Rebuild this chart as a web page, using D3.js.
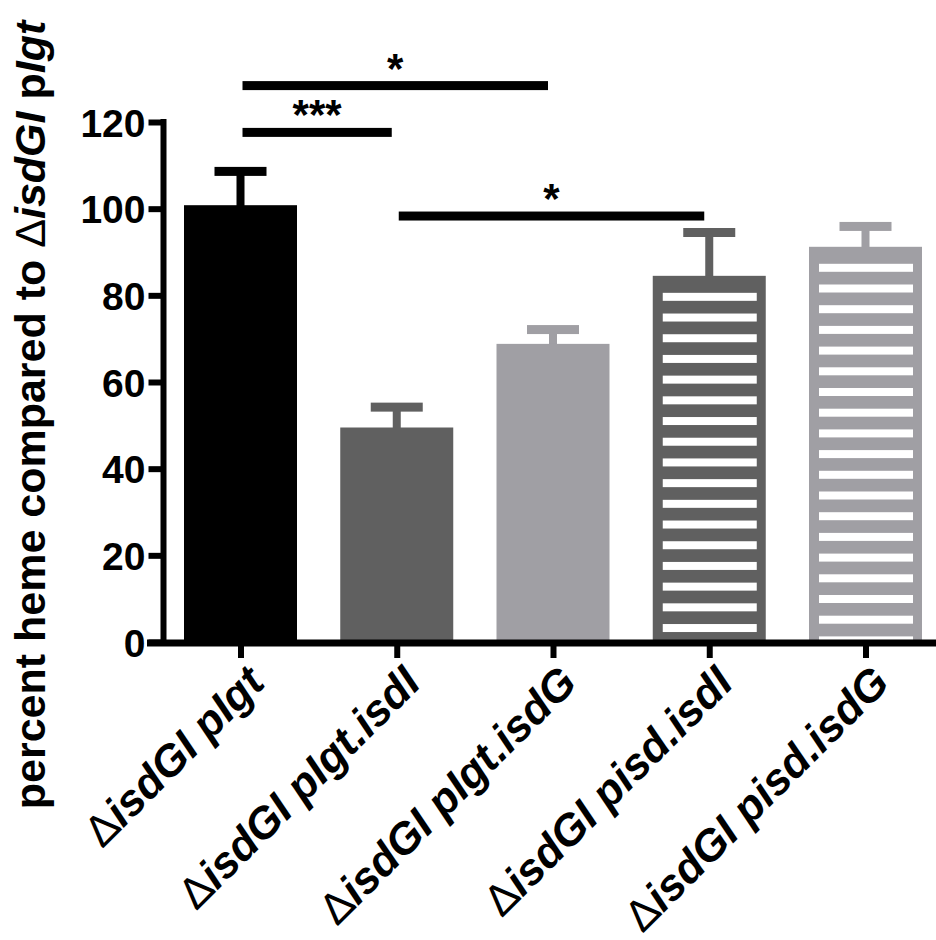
<!DOCTYPE html>
<html>
<head>
<meta charset="utf-8">
<script src="https://cdn.jsdelivr.net/npm/d3@7"></script>
<style>
  body { margin: 0; background: #fff; }
  svg { display: block; }
  text { font-family: "Liberation Sans", Arial, sans-serif; }
</style>
</head>
<body>
<svg id="chart" width="936" height="940"></svg>
<script>
// Heme recovered per strain, as percent of the ΔisdGI pIgt control (mean ± SEM)
const plasmids = ["pIgt", "pIgt.isdI", "pIgt.isdG", "pisd.isdI", "pisd.isdG"];
const hemePercent = [100.8, 49.5, 68.8, 84.5, 91.2];
const hemeSem = [7.8, 4.7, 3.3, 10.0, 4.7];
const barFills = ["#000000", "#606060", "#a09fa4", "#606060", "#a09fa4"];
const barStriped = [false, false, false, true, true];
const yTickValues = [0, 20, 40, 60, 80, 100, 120];

// Significance brackets: pair of strains, bracket height (in % units), label
const sigFrom = [0, 0, 1];
const sigTo = [2, 1, 3];
const sigLevel = [128.4, 117.6, 98.3];
const sigLabel = ["*", "***", "*"];

const svg = d3.select("#chart");

const x = d3.scalePoint().domain(plasmids).range([240.5, 865.5]);
const y = d3.scaleLinear().domain([0, 120]).range([642, 122]);

const barW = 113;
const axisW = 6;
const yAxisX = 163.5;

// bars
const bars = svg.append("g");
plasmids.forEach((p, i) => {
  const cx = x(p);
  const top = y(hemePercent[i]);
  const bottom = y(0);
  const col = barFills[i];

  // error bar (upper whisker only)
  const errY = y(hemePercent[i] + hemeSem[i]);
  bars.append("rect")
    .attr("x", cx - 4).attr("y", errY)
    .attr("width", 8).attr("height", top - errY + 1)
    .attr("fill", col);
  bars.append("rect")
    .attr("x", cx - 26).attr("y", errY - 4.5)
    .attr("width", 52).attr("height", 9)
    .attr("fill", col);

  bars.append("rect")
    .attr("x", cx - barW / 2).attr("y", top)
    .attr("width", barW).attr("height", bottom - top)
    .attr("fill", col);

  if (barStriped[i]) {
    const period = 20.7, stripeH = 8, firstOff = 17;
    const starts = d3.range(top + firstOff, bottom, period);
    bars.selectAll(null).data(starts).enter().append("rect")
      .attr("x", cx - barW / 2 + 10)
      .attr("y", d => d)
      .attr("width", barW - 19)
      .attr("height", d => Math.min(stripeH, bottom - d))
      .attr("fill", "#ffffff");
  }
});

// y axis
const yAxis = d3.axisLeft(y).tickValues(yTickValues).tickSize(15).tickPadding(3).tickSizeOuter(0);
const gy = svg.append("g").attr("transform", `translate(${yAxisX},0)`).call(yAxis);
gy.select(".domain").remove();
gy.selectAll(".tick line").attr("stroke", "#000").attr("stroke-width", axisW);
gy.selectAll(".tick text")
  .attr("fill", "#000")
  .style("font-size", "39px").style("font-weight", "bold")
  .attr("dy", "0.36em");
svg.append("line")
  .attr("x1", yAxisX).attr("x2", yAxisX)
  .attr("y1", y(120) - 3).attr("y2", y(0) + 1)
  .attr("stroke", "#000").attr("stroke-width", axisW);

// x axis
svg.append("line")
  .attr("x1", 147).attr("x2", 936)
  .attr("y1", y(0) + 1).attr("y2", y(0) + 1)
  .attr("stroke", "#000").attr("stroke-width", 7);
const xAxis = d3.axisBottom(x).tickSize(15).tickSizeOuter(0).tickFormat("");
const gx = svg.append("g").attr("transform", `translate(0,${y(0) + 1})`).call(xAxis);
gx.select(".domain").remove();
gx.selectAll(".tick line").attr("stroke", "#000").attr("stroke-width", axisW);

// category labels, rotated
const labels = svg.append("g");
plasmids.forEach((p, i) => {
  const t = labels.append("text")
    .attr("transform", `translate(${x(p) + 26},${685}) rotate(-45)`)
    .attr("text-anchor", "end")
    .style("font-size", "44px");
  t.append("tspan").text("Δ").style("font-weight", "normal");
  t.append("tspan").text("isdGI " + p).style("font-weight", "bold").style("font-style", "italic");
});

// y axis title
const title = svg.append("text")
  .attr("transform", "translate(45,415) rotate(-90)")
  .attr("text-anchor", "middle")
  .style("font-size", "43px").style("font-weight", "bold");
title.append("tspan").text("percent heme compared to ");
title.append("tspan").text("Δ").style("font-weight", "normal");
title.append("tspan").text("isdGI").style("font-style", "italic");
title.append("tspan").text(" p");
title.append("tspan").text("Igt").style("font-style", "italic");

// significance brackets
const sig = svg.append("g");
sigFrom.forEach((a, k) => {
  const x1 = x(plasmids[a]) + 2;
  const x2 = x(plasmids[sigTo[k]]) - 5;
  const yy = y(sigLevel[k]);
  sig.append("rect")
    .attr("x", x1).attr("y", yy - 4.5)
    .attr("width", x2 - x1).attr("height", 9)
    .attr("fill", "#000");
  sig.append("text")
    .attr("x", (x1 + x2) / 2).attr("y", yy - 3)
    .attr("text-anchor", "middle")
    .style("font-size", "42px").style("font-weight", "bold")
    .text(sigLabel[k]);
});
</script>
</body>
</html>
